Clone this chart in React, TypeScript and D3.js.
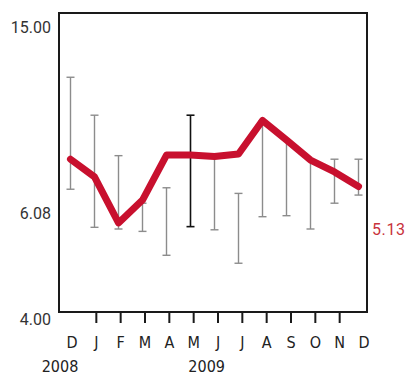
import React from "react";
import * as d3 from "d3";

const W = 405;
const H = 376;
const FRAME = { left: 59, right: 367, top: 13, bottom: 312 };

// months Dec 2008 .. Dec 2009
const months = ["D", "J", "F", "M", "A", "M", "J", "J", "A", "S", "O", "N", "D"];
const monthKeys = months.map((m, i) => `${m}${i}`);

// red line (monthly value)
const values = [8.66, 7.81, 5.49, 6.7, 8.86, 8.86, 8.79, 8.91, 10.52, 9.58, 8.62, 8.05, 7.35];
// error bar range
const highs = [12.59, 10.77, 8.83, 6.55, 7.29, 10.77, 8.7, 7.02, 10.5, 9.6, 8.6, 8.66, 8.66];
const lows = [7.22, 5.23, 5.13, 5.1, 4.8, 5.27, 5.12, 4.7, 5.86, 5.92, 5.13, 6.55, 6.94];
const highlighted = 5; // May 2009 bar drawn in black

// y tick marks on the left, plus the red marker on the right
const yTicks = [15, 6.08, 4];
const yMarker = 5.13;

const years = ["2008", "2009"];
const yearAnchors = [0, 5];
const yearShift = [-12, 13];

const condensed = "'DejaVu Sans Condensed', 'Liberation Sans Narrow', Roboto, sans-serif";

export default function App() {
  const x = d3.scalePoint<string>().domain(monthKeys).range([70.5, 358.5]);
  const xLabel = d3.scalePoint<string>().domain(monthKeys).range([72, 364]);
  // the value axis is not evenly spaced in the original
  const y = d3
    .scaleLinear()
    .domain([4, 5.13, 6.08, 15])
    .range([319, 229, 213, 27]);

  const lineGen = d3
    .line<number>()
    .x((_, i) => x(monthKeys[i]) as number)
    .y((d) => y(d));

  return (
    <svg width={W} height={H} style={{ position: "absolute", left: 0, top: 0 }}>
      <rect x={0} y={0} width={W} height={H} fill="#fff" />
      {monthKeys.map((k, i) => {
        const cx = x(k) as number;
        const col = i === highlighted ? "#111" : "#8c8c8c";
        return (
          <g key={k} stroke={col} strokeWidth={i === highlighted ? 1.6 : 1.4}>
            <line x1={cx} x2={cx} y1={y(highs[i])} y2={y(lows[i])} />
            <line x1={cx - 4} x2={cx + 4} y1={y(highs[i])} y2={y(highs[i])} />
            <line x1={cx - 4} x2={cx + 4} y1={y(lows[i])} y2={y(lows[i])} />
          </g>
        );
      })}
      <path
        d={lineGen(values) || ""}
        fill="none"
        stroke="#c8102e"
        strokeWidth={7}
        strokeLinejoin="round"
        strokeLinecap="round"
      />
      <rect
        x={FRAME.left}
        y={FRAME.top}
        width={FRAME.right - FRAME.left}
        height={FRAME.bottom - FRAME.top}
        fill="none"
        stroke="#1a1a1a"
        strokeWidth={2}
      />
      {monthKeys.slice(1, -1).map((k) => (
        <line
          key={k}
          x1={xLabel(k)}
          x2={xLabel(k)}
          y1={FRAME.bottom}
          y2={FRAME.bottom + 11}
          stroke="#1a1a1a"
          strokeWidth={2}
        />
      ))}
      {monthKeys.map((k, i) => (
        <text
          key={k}
          x={xLabel(k)}
          y={348}
          textAnchor="middle"
          fontFamily={condensed}
          fontSize={16}
          fill="#222"
        >
          {months[i]}
        </text>
      ))}
      {years.map((t, i) => (
        <text
          key={t}
          x={(xLabel(monthKeys[yearAnchors[i]]) as number) + yearShift[i]}
          y={372}
          textAnchor="middle"
          fontFamily={condensed}
          fontSize={16}
          fill="#222"
        >
          {t}
        </text>
      ))}
      {yTicks.map((t) => (
        <text
          key={t}
          x={51}
          y={y(t)}
          dy="0.36em"
          textAnchor="end"
          fontFamily="Roboto, sans-serif"
          fontSize={16}
          fill="#333"
        >
          {t.toFixed(2)}
        </text>
      ))}
      <text
        x={372}
        y={y(yMarker)}
        dy="0.36em"
        fontFamily="Roboto, sans-serif"
        fontSize={16}
        letterSpacing={0.6}
        fill="#c8323c"
      >
        {yMarker.toFixed(2)}
      </text>
    </svg>
  );
}
